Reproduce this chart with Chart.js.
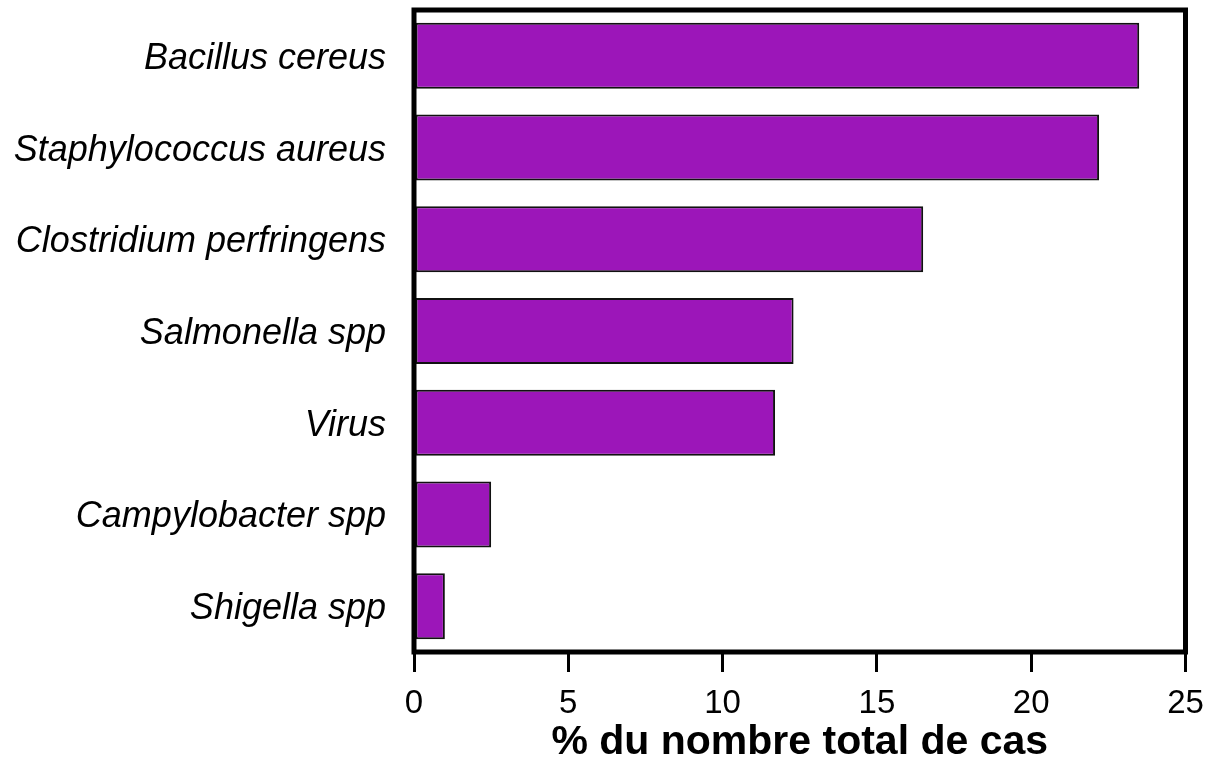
<!DOCTYPE html>
<html>
<head>
<meta charset="utf-8">
<script src="https://cdn.jsdelivr.net/npm/chart.js@4.4.1/dist/chart.umd.min.js"></script>
<style>
  html, body { margin: 0; padding: 0; background: #fff; }
  #wrap { width: 1205px; height: 767px; }
</style>
</head>
<body>
<div id="wrap"><canvas id="chart" width="1205" height="767"></canvas></div>
<script>
const germs = [
    'Bacillus cereus',
    'Staphylococcus aureus',
    'Clostridium perfringens',
    'Salmonella spp',
    'Virus',
    'Campylobacter spp',
    'Shigella spp'
];
const shares = [23.5, 22.2, 16.5, 12.3, 11.7, 2.5, 1.0];
const xTicks = [0, 5, 10, 15, 20, 25];
const xTitle = '% du nombre total de cas';

const FONT = '"Liberation Sans", Arial, Helvetica, sans-serif';

// heavy box around the plotting region
const frame = {
    id: 'frame',
    afterDatasetsDraw(chart) {
        const { ctx, chartArea: a } = chart;
        ctx.save();
        ctx.strokeStyle = '#000';
        ctx.lineWidth = 5;
        ctx.lineJoin = 'miter';
        ctx.strokeRect(a.left, a.top, a.right - a.left, a.bottom - a.top);
        ctx.restore();
    }
};

new Chart(document.getElementById('chart'), {
    type: 'bar',
    data: {
        labels: germs,
        datasets: [{
            data: shares,
            backgroundColor: '#9c16b9',
            borderColor: '#111',
            borderWidth: 2,
            borderSkipped: false,
            barPercentage: 0.72,
            categoryPercentage: 1
        }]
    },
    options: {
        indexAxis: 'y',
        responsive: false,
        animation: false,
        layout: { padding: { top: 10, right: 19.5, left: 0, bottom: 0 } },
        plugins: {
            legend: { display: false },
            tooltip: { enabled: false }
        },
        scales: {
            x: {
                min: 0,
                max: 25,
                afterBuildTicks: scale => {
                    scale.ticks = xTicks.map(v => ({ value: v }));
                },
                afterFit: scale => {
                    scale.height = 115;
                    scale.paddingLeft = 0;
                    scale.paddingRight = 0;
                },
                grid: {
                    display: true,
                    drawOnChartArea: false,
                    drawTicks: true,
                    tickLength: 20,
                    tickWidth: 3,
                    tickColor: '#000',
                    lineWidth: 3,
                    color: '#000'
                },
                border: { display: false },
                ticks: {
                    color: '#000',
                    padding: 12,
                    maxRotation: 0,
                    font: { family: FONT, size: 33 }
                },
                title: {
                    display: true,
                    text: xTitle,
                    color: '#000',
                    padding: { top: 0, bottom: 0 },
                    font: { family: FONT, size: 41, weight: 'bold' }
                }
            },
            y: {
                afterFit: scale => {
                    scale.width = 414;
                    scale.paddingTop = 0;
                    scale.paddingBottom = 0;
                },
                grid: { display: false },
                border: { display: false },
                ticks: {
                    color: '#000',
                    padding: 20,
                    labelOffset: 3,
                    font: { family: FONT, size: 36, style: 'italic' }
                }
            }
        }
    },
    plugins: [frame]
});
</script>
</body>
</html>
